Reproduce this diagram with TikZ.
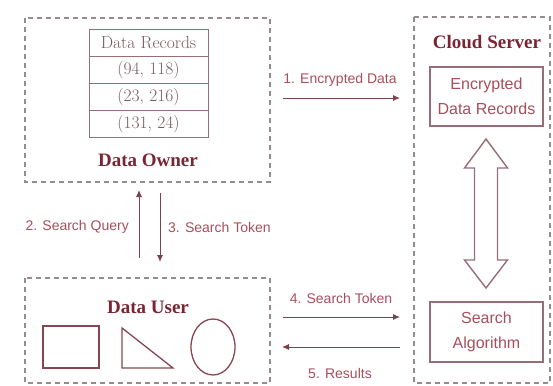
\documentclass[tikz,border=0pt]{standalone}
\usepackage{fontspec}
\newfontfamily\lsans{Liberation Sans}
\newfontfamily\tserif{Liberation Serif}
\usetikzlibrary{arrows.meta}
\definecolor{dashgrey}{RGB}{150,140,142}
\definecolor{titlered}{RGB}{120,38,52}
\definecolor{labelred}{RGB}{168,78,92}
\definecolor{boxline}{RGB}{150,110,118}
\definecolor{arrowred}{RGB}{125,50,65}
\definecolor{shapeline}{RGB}{135,70,82}
\definecolor{tabletext}{RGB}{120,90,96}
\tikzset{
  region/.style={draw=dashgrey, line width=1.1pt, dash pattern=on 5pt off 4pt},
  title/.style={text=titlered, font=\tserif\bfseries\fontsize{19}{21}\selectfont},
  lbl/.style={text=labelred, font=\lsans\fontsize{14}{16}\selectfont, inner sep=0pt},
  cell/.style={draw=boxline, line width=1pt, minimum width=119pt, minimum height=27pt, inner sep=0pt, text=tabletext, font=\fontsize{17.5}{19}\selectfont},
  cbox/.style={draw=boxline, line width=1.2pt, minimum width=113pt, minimum height=59pt, inner sep=0pt, align=center, text=labelred, font=\lsans\fontsize{16}{25}\selectfont},
  flow/.style={draw=arrowred!80!gray, line width=0.9pt, -{Latex[length=7pt,width=6pt]}},
  shp/.style={draw=shapeline, line width=1.3pt}
}
\begin{document}
\begin{tikzpicture}[x=1pt,y=-1pt]
\useasboundingbox (0,0) rectangle (553,385);
% regions
\draw[region] (25,18) rectangle (270,182);
\draw[region] (25,278) rectangle (270,383);
\draw[region] (414,17) rectangle (550,383);
% table
\node[cell] (h)  at (148.5,43)  {Data Records};
\node[cell] (r1) at (148.5,70)  {(94, 118)};
\node[cell] (r2) at (148.5,97)  {(23, 216)};
\node[cell] (r3) at (148.5,124) {(131, 24)};
\node[title] (owner) at (148,160) {Data Owner};
\node[title] (cloud) at (487,42) {Cloud Server};
\node[title] (user) at (148,307) {Data User};
% cloud boxes
\node[cbox] (enc) at (486.5,96.5) {Encrypted\\Data Records};
\node[cbox, minimum height=60pt] (alg) at (486.5,332) {Search\\Algorithm};
% double arrow
\draw[draw=boxline, line width=1.4pt, line join=miter]
  (486,139) -- (507.5,168) -- (497.5,168) -- (497.5,260) -- (507.5,260)
  -- (486,288) -- (464.5,260) -- (474.5,260) -- (474.5,168) -- (464.5,168) -- cycle;
% user shapes
\draw[shp] (43,326) rectangle (99,368);
\draw[shp] (122,328) -- (122,368) -- (173,368) -- cycle;
\draw[shp] (213,347) ellipse [x radius=22, y radius=28];
% connector end points
\coordinate (a1s) at (283,98);  \coordinate (a1e) at (400,98);
\coordinate (a2s) at (139,258); \coordinate (a2e) at (139,190);
\coordinate (a3s) at (160,193); \coordinate (a3e) at (160,262);
\coordinate (a4s) at (283,317); \coordinate (a4e) at (400,317);
\coordinate (a5s) at (400,347); \coordinate (a5e) at (282,347);
\draw[flow] (a1s) -- (a1e);
\draw[flow] (a2s) -- (a2e);
\draw[flow] (a3s) -- (a3e);
\draw[flow] (a4s) -- (a4e);
\draw[flow] (a5s) -- (a5e);
% labels
\node[lbl] (l1) at (340,80) {1. Encrypted Data};
\node[lbl, anchor=east] (l2) at (129,227) {2. Search Query};
\node[lbl, anchor=west] (l3) at (168,227) {3. Search Token};
\node[lbl] (l4) at (341,298) {4. Search Token};
\node[lbl] (l5) at (340,373) {5. Results};
\end{tikzpicture}
\end{document}
